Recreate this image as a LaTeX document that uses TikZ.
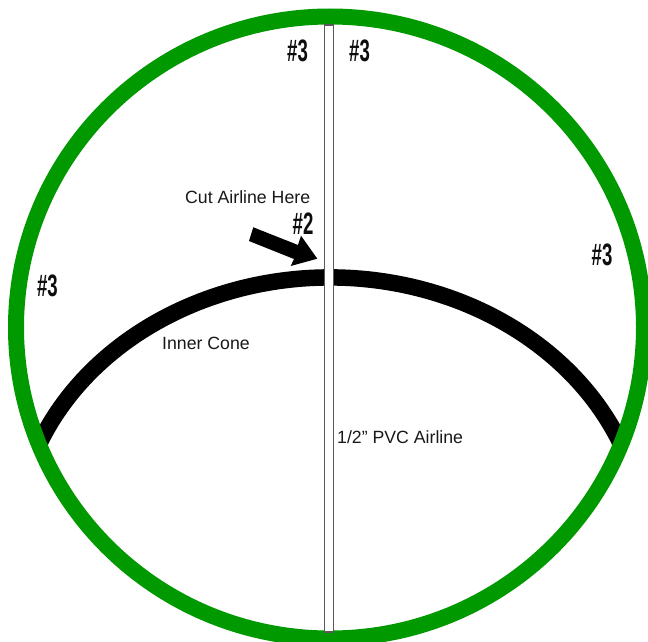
\documentclass[tikz,border=0pt]{standalone}
\usepackage{fontspec}
\setmainfont{Liberation Sans}
\definecolor{ringgreen}{RGB}{0,153,0}
\definecolor{tubegray}{RGB}{90,90,90}
\tikzset{
  lbl/.style={font=\fontsize{17.7}{20}\selectfont,inner sep=0pt,text=black!90},
  num/.style={font=\fontsize{31}{33}\bfseries\selectfont,inner sep=0pt,xscale=0.6,transform shape,text=black!95}
}
\begin{document}
\begin{tikzpicture}[x=1pt,y=-1pt]
\useasboundingbox (0,0) rectangle (648,642);
\fill[white] (0,0) rectangle (648,642);
\clip (0,0) rectangle (648,642);
% inner cone
\begin{scope}
\clip (330,327.5) ellipse [x radius=314,y radius=311];
\draw[black,line width=16.5pt] (330,547.5) ++(-160:315 and 270) arc[start angle=-160,end angle=-20,x radius=315,y radius=270];
\end{scope}
% ring
\draw[ringgreen,line width=16pt] (330,327.5) ellipse [x radius=314,y radius=311];
% airline
\draw[tubegray,fill=white,line width=1.3pt] (324.5,25) rectangle (333.7,632);
% arrow
\fill[black] (253.3,227.3) -- (249,241) -- (294,259) -- (290.7,266) -- (317.3,258.7) -- (301,235.7) -- (298,245) -- cycle;
% labels
\node[lbl,anchor=west] (cut) at (185,197) {Cut Airline Here};
\node[lbl,anchor=west] (cone) at (162,343) {Inner Cone};
\node[lbl,anchor=west] (pvc) at (337,437.5) {1/2" PVC Airline};
\node[num] (n1) at (297.5,50.5) {\#3};
\node[num] (n2) at (359.5,50.5) {\#3};
\node[num] (n3) at (602,255) {\#3};
\node[num] (n4) at (47.5,286) {\#3};
\node[num] (n5) at (303,224) {\#2};
\end{tikzpicture}
\end{document}
